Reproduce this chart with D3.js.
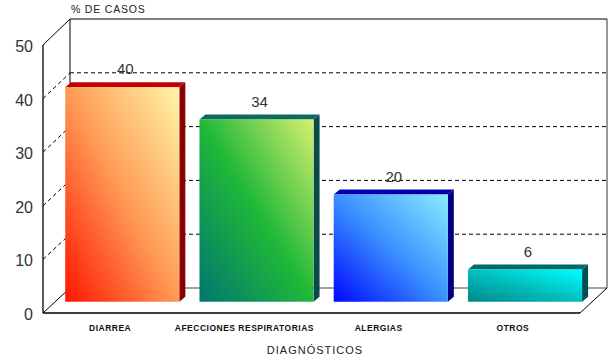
<!DOCTYPE html>
<html><head><meta charset="utf-8">
<script src="https://cdn.jsdelivr.net/npm/d3@7"></script>
<style>body{margin:0;background:#fff}svg{display:block}</style>
</head><body>
<script>
const categories = ["DIARREA","AFECCIONES RESPIRATORIAS","ALERGIAS","OTROS"];
const values = [40,34,20,6];
const yTicks = [0,10,20,30,40,50];
const gridTicks = [10,20,30,40];
const yTitle = "% DE CASOS";
const xTitle = "DIAGNÓSTICOS";
const palettes = [
  {stops:["#ff1500","#ff9a55","#fff6a8"], top:"#c40000", side:"#8a0000"},
  {stops:["#00776f","#20b838","#d8f070"], top:"#0d6a5e", side:"#0a4a4a"},
  {stops:["#0008ff","#3a90ff","#88eeff"], top:"#0000b0", side:"#000080"},
  {stops:["#008787","#00c0c0","#00ffff"], top:"#006a6a", side:"#005050"}
];

const W=612,H=364;
const svg=d3.select("body").append("svg").attr("width",W).attr("height",H);
const defs=svg.append("defs");
palettes.forEach((p,i)=>{
  const g=defs.append("linearGradient").attr("id","g"+i)
    .attr("x1",0).attr("y1",1).attr("x2",1).attr("y2",0);
  p.stops.forEach((c,j)=>g.append("stop").attr("offset",j/(p.stops.length-1)).attr("stop-color",c));
});

// geometry
const fx0=43, fx1=580, depthX=27, depthY=25;
const yFront=d3.scaleLinear().domain([0,50]).range([313,45]);
const yBack=d3.scaleLinear().domain([0,50]).range([288,19]);
const barZ=0.45;
const bdx=depthX*barZ, bdy=depthY*barZ;
const yBar=d3.scaleLinear().domain([0,50]).range([313-bdy,45-bdy]);
const xFront=d3.scaleBand().domain(categories).range([fx0,fx1]);
const xBar=d3.scaleBand().domain(categories).range([fx0+bdx,fx1+bdx]).paddingInner(0.15).paddingOuter(0.075);
const bx0=fx0+depthX, bx1=fx1+depthX;

const frame=svg.append("g").attr("stroke","#000").attr("fill","none");
// back wall
frame.append("line").attr("x1",bx0).attr("x2",bx1).attr("y1",yBack(50)).attr("y2",yBack(50)).attr("stroke-width",1);
frame.append("line").attr("x1",bx0).attr("x2",bx0).attr("y1",yBack(50)).attr("y2",yBack(0));
frame.append("line").attr("x1",bx1).attr("x2",bx1).attr("y1",yBack(50)).attr("y2",yBack(0)).attr("stroke","#333");
frame.append("line").attr("x1",bx0).attr("x2",bx1).attr("y1",yBack(0)).attr("y2",yBack(0)).attr("stroke","#444");
// dashed gridlines
const grid=svg.append("g").attr("stroke","#000").attr("stroke-dasharray","4,3").attr("fill","none");
gridTicks.forEach(v=>{
  grid.append("line").attr("x1",bx0).attr("x2",bx1).attr("y1",yBack(v)).attr("y2",yBack(v));
  grid.append("line").attr("x1",fx0).attr("x2",bx0).attr("y1",yFront(v)).attr("y2",yBack(v));
});
// left wall edges
frame.append("line").attr("x1",fx0).attr("y1",yFront(50)).attr("x2",bx0).attr("y2",yBack(50));
frame.append("line").attr("x1",fx0).attr("y1",yFront(0)).attr("x2",bx0).attr("y2",yBack(0));
// front y axis
frame.append("line").attr("x1",fx0).attr("x2",fx0).attr("y1",yFront(50)).attr("y2",yFront(0)).attr("stroke-width",1.3);
// floor front edge and right
frame.append("line").attr("x1",fx0).attr("x2",fx1).attr("y1",yFront(0)).attr("y2",yFront(0)).attr("stroke-width",1.3);
frame.append("line").attr("x1",fx1).attr("y1",yFront(0)).attr("x2",bx1).attr("y2",yBack(0));

// bars
const bdx2=6, bdy2=5;
const bars=svg.append("g");
categories.forEach((c,i)=>{
  const x0=xBar(c), x1=x0+xBar.bandwidth();
  const yt=yBar(values[i]), yb=yBar(0);
  const p=palettes[i];
  bars.append("polygon").attr("points",[[x1,yt],[x1+bdx2,yt-bdy2],[x1+bdx2,yb-bdy2],[x1,yb]].join(" ")).attr("fill",p.side);
  bars.append("polygon").attr("points",[[x0,yt],[x0+bdx2,yt-bdy2],[x1+bdx2,yt-bdy2],[x1,yt]].join(" ")).attr("fill",p.top);
  bars.append("rect").attr("x",x0).attr("y",yt).attr("width",x1-x0).attr("height",yb-yt).attr("fill","url(#g"+i+")");
  svg.append("text").attr("x",(x0+x1)/2+bdx2/2).attr("y",yt-bdy2-8)
    .attr("text-anchor","middle").attr("font-family","Liberation Sans, Arial, sans-serif")
    .attr("font-size",15).attr("fill","#333").text(values[i]);
});

// y tick labels
yTicks.forEach(v=>{
  svg.append("text").attr("x",33).attr("y",yFront(v)+7).attr("text-anchor","end")
    .attr("font-family","Liberation Sans, Arial, sans-serif").attr("font-size",16).attr("fill","#333").text(v);
});
// category labels
categories.forEach(c=>{
  svg.append("text").attr("x",xFront(c)+xFront.bandwidth()/2).attr("y",331).attr("text-anchor","middle")
    .attr("font-family","Liberation Sans, Arial, sans-serif").attr("font-size",8.5).attr("font-weight","bold")
    .attr("letter-spacing",0.5).attr("fill","#111").text(c);
});
svg.append("text").attr("x",315).attr("y",354).attr("text-anchor","middle")
  .attr("font-family","Liberation Sans, Arial, sans-serif").attr("font-size",11).attr("letter-spacing",1)
  .attr("fill","#222").text(xTitle);
svg.append("text").attr("x",71).attr("y",13)
  .attr("font-family","Liberation Sans, Arial, sans-serif").attr("font-size",10.5).attr("letter-spacing",0.8)
  .attr("fill","#222").text(yTitle);
</script>
</body></html>
